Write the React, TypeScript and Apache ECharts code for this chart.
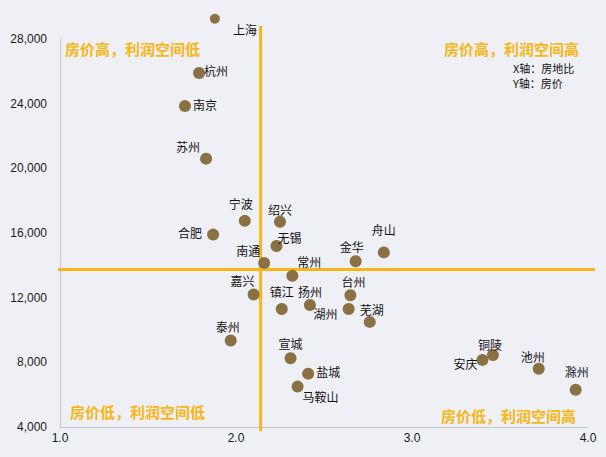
import React, { useEffect, useRef } from "react";
import * as echarts from "echarts";

const cities = ["上海","杭州","南京","苏州","宁波","绍兴","合肥","无锡","南通","常州","嘉兴","镇江","扬州","泰州","宣城","盐城","马鞍山","湖州","台州","芜湖","金华","舟山","安庆","铜陵","池州","滁州"];
const landRatio = [1.88,1.79,1.71,1.83,2.05,2.25,1.87,2.23,2.16,2.32,2.10,2.26,2.42,1.97,2.31,2.41,2.35,2.64,2.65,2.76,2.68,2.84,3.40,3.46,3.72,3.93];
const housePrice = [29250,25900,23850,20600,16750,16700,15900,15200,14150,13350,12200,11300,11550,9350,8250,7300,6500,11300,12150,10500,14250,14800,8150,8450,7600,6300];

const xTicks = { min: 1, max: 4, interval: 1 };
const yTicks = { min: 4000, max: 28000, interval: 4000 };
const refX = 2.14;
const refY = 13750;

const quadrantTexts = ["房价高，利润空间低", "房价高，利润空间高", "房价低，利润空间低", "房价低，利润空间高"];
const axisNotes = ["X轴：房地比", "Y轴：房价"];

// label placement: [position, dx, dy]
const labelLayout: Record<string, [string, number, number]> = {
  "上海": ["right", 8, 11],
  "杭州": ["right", -6, -2],
  "南京": ["right", -3, -2],
  "苏州": ["left", 5, -12],
  "宁波": ["top", -4, 0],
  "绍兴": ["top", 0, 5],
  "合肥": ["left", 0, -2],
  "无锡": ["right", -10, -8],
  "南通": ["left", 7, -12],
  "常州": ["right", -6, -14],
  "嘉兴": ["top", -11, 3],
  "镇江": ["top", 0, 0],
  "扬州": ["top", 0, 4],
  "泰州": ["top", -3, 3],
  "宣城": ["top", 0, 2],
  "盐城": ["right", -3, -2],
  "马鞍山": ["right", -6, 10],
  "湖州": ["left", 0, 5],
  "台州": ["top", 3, 3],
  "芜湖": ["top", 2, 5],
  "金华": ["top", -4, 2],
  "舟山": ["top", 0, -6],
  "安庆": ["left", 6, 4],
  "铜陵": ["top", -3, 6],
  "池州": ["top", -6, 5],
  "滁州": ["top", 1, -1],
};

const ORANGE = "#f6b616";
const DOT = "#8a7143";
const FONT_CJK = "'Noto Sans CJK SC', 'Noto Sans', sans-serif";
const FONT_NUM = "Arial, 'Liberation Sans', sans-serif";

export default function App() {
  const ref = useRef<HTMLDivElement>(null);
  useEffect(() => {
    if (!ref.current) return;
    const chart = echarts.init(ref.current, undefined, { renderer: "svg" });
    const data = cities.map((name, i) => {
      const lay = labelLayout[name] || ["top", 0, 0];
      return {
        name,
        value: [landRatio[i], housePrice[i]],
        symbolSize: name === "上海" ? 10 : 12,
        label: { position: lay[0], offset: [lay[1], lay[2]] },
      };
    });
    chart.setOption({
      animation: false,
      backgroundColor: "#eff0f5",
      grid: { left: 60, right: 18, top: 39, bottom: 30 },
      xAxis: {
        type: "value",
        min: xTicks.min,
        max: xTicks.max,
        interval: xTicks.interval,
        axisLine: { show: true, lineStyle: { color: "#c4c6cc", width: 1 } },
        axisTick: { show: false },
        splitLine: { show: false },
        axisLabel: {
          formatter: (v: number) => v.toFixed(1),
          color: "#1a1a1a",
          fontSize: 12,
          fontFamily: FONT_NUM,
          margin: 5,
        },
      },
      yAxis: {
        type: "value",
        min: yTicks.min,
        max: yTicks.max,
        interval: yTicks.interval,
        axisLine: { show: true, lineStyle: { color: "#c4c6cc", width: 1 } },
        axisTick: { show: false },
        splitLine: { show: false },
        axisLabel: {
          formatter: (v: number) => v.toLocaleString("en-US"),
          color: "#1a1a1a",
          fontSize: 12,
          fontFamily: FONT_NUM,
          margin: 13,
        },
      },
      series: [
        {
          type: "scatter",
          clip: false,
          data,
          itemStyle: { color: DOT, opacity: 1 },
          label: {
            show: true,
            formatter: "{b}",
            color: "#111",
            fontSize: 12,
            fontFamily: FONT_CJK,
          },
          z: 5,
        },
      ],
    });

    const px = chart.convertToPixel({ gridIndex: 0 }, [refX, refY]) as number[];
    const tl = chart.convertToPixel({ gridIndex: 0 }, [xTicks.min, yTicks.max]) as number[];
    const br = chart.convertToPixel({ gridIndex: 0 }, [xTicks.max, yTicks.min]) as number[];
    const qStyle = { fill: ORANGE, font: `bold 15px ${FONT_CJK}`, textVerticalAlign: "middle" };
    const noteStyle = { fill: "#111", font: `11px ${FONT_CJK}`, textVerticalAlign: "top" };
    chart.setOption({
      graphic: [
        { type: "line", z: 3, shape: { x1: px[0], y1: tl[1] - 13, x2: px[0], y2: br[1] + 4 }, style: { stroke: ORANGE, lineWidth: 3 } },
        { type: "line", z: 3, shape: { x1: tl[0] - 2, y1: px[1], x2: br[0] + 7, y2: px[1] }, style: { stroke: ORANGE, lineWidth: 3 } },
        { type: "text", z: 4, x: 65, y: 48, style: { ...qStyle, text: quadrantTexts[0], textAlign: "left" } },
        { type: "text", z: 4, x: 579, y: 48, style: { ...qStyle, text: quadrantTexts[1], textAlign: "right" } },
        { type: "text", z: 4, x: 70, y: 411, style: { ...qStyle, text: quadrantTexts[2], textAlign: "left" } },
        { type: "text", z: 4, x: 576, y: 415, style: { ...qStyle, text: quadrantTexts[3], textAlign: "right" } },
        { type: "text", z: 4, x: 513, y: 62, style: { ...noteStyle, text: axisNotes[0] } },
        { type: "text", z: 4, x: 513, y: 77, style: { ...noteStyle, text: axisNotes[1] } },
      ],
    });
    return () => chart.dispose();
  }, []);
  return <div ref={ref} style={{ position: "absolute", left: 0, top: 0, width: 606, height: 457 }} />;
}
